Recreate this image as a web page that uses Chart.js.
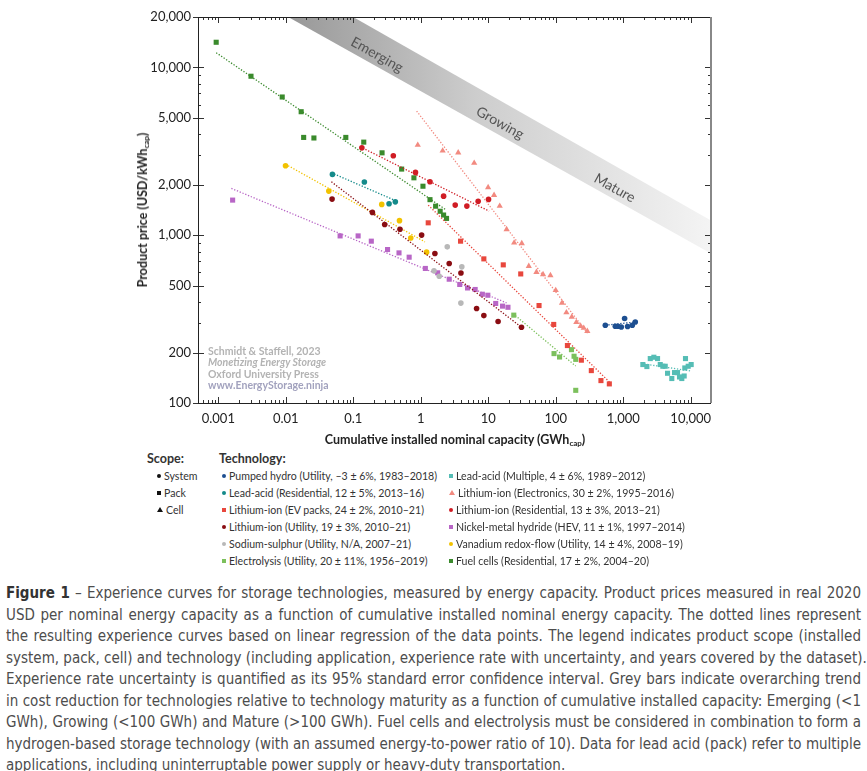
<!DOCTYPE html>
<html>
<head>
<meta charset="utf-8">
<script src="https://cdn.jsdelivr.net/npm/chart.js@4.4.0/dist/chart.umd.min.js"></script>
<style>
  body { margin: 0; background: #fff; width: 867px; height: 771px; position: relative; overflow: hidden; font-family: Lato, "Open Sans", sans-serif; color: #222; }
  #wrap { position: absolute; left: 0; top: 0; width: 867px; height: 440px; }
  .ytitle { position: absolute; left: 143px; top: 210px; transform: translate(-50%, -50%) rotate(-90deg); white-space: nowrap; font-weight: bold; font-size: 12.5px; }
  .xtitle { position: absolute; left: 455px; top: 440px; transform: translate(-50%, -50%); white-space: nowrap; font-weight: bold; font-size: 12.5px; }
  sub { font-size: 8px; vertical-align: -2px; }
  .wm { position: absolute; left: 208px; font-weight: bold; font-size: 10.5px; color: #b3b3b3; line-height: 11.4px; top: 346px; }
  .wm .u { color: #a2a2be; }
  .lg { position: absolute; font-size: 11.5px; color: #333; white-space: nowrap; }
  .lg b { font-size: 12.5px; }
  .lg .t { display: inline-block; transform: scaleX(0.92); transform-origin: 0 50%; }
  .mk { display: inline-block; width: 4px; height: 4px; margin-right: 3px; vertical-align: 2px; }
  .ci { border-radius: 50%; }
  .tri { width: 0; height: 0; border-left: 3px solid transparent; border-right: 3px solid transparent; border-bottom: 5px solid; background: none !important; }
  #cap { position: absolute; left: 6px; top: 583px; width: 855px; font-family: "Liberation Sans Narrow", "DejaVu Sans Condensed", sans-serif; font-size: 15px; color: #4d4d4d; line-height: 21.5px; }
  #cap div { text-align: justify; text-align-last: justify; white-space: nowrap; }
  #cap div.last { text-align-last: left; }
</style>
</head>
<body>
<div id="wrap"><canvas id="c"></canvas></div>
<div class="ytitle">Product price (USD/kWh<sub>cap</sub>)</div>
<div class="xtitle">Cumulative installed nominal capacity (GWh<sub>cap</sub>)</div>
<div class="wm">Schmidt &amp; Staffell, 2023<br><i>Monetizing Energy Storage</i><br>Oxford University Press<br><span class="u">www.EnergyStorage.ninja</span></div>
<div id="legend"></div>
<div id="cap">
  <div><b style="color:#333">Figure 1</b> – Experience curves for storage technologies, measured by energy capacity. Product prices measured in real 2020</div>
  <div>USD per nominal energy capacity as a function of cumulative installed nominal energy capacity. The dotted lines represent</div>
  <div>the resulting experience curves based on linear regression of the data points. The legend indicates product scope (installed</div>
  <div>system, pack, cell) and technology (including application, experience rate with uncertainty, and years covered by the dataset).</div>
  <div>Experience rate uncertainty is quantified as its 95% standard error confidence interval. Grey bars indicate overarching trend</div>
  <div>in cost reduction for technologies relative to technology maturity as a function of cumulative installed capacity: Emerging (&lt;1</div>
  <div>GWh), Growing (&lt;100 GWh) and Mature (&gt;100 GWh). Fuel cells and electrolysis must be considered in combination to form a</div>
  <div>hydrogen-based storage technology (with an assumed energy-to-power ratio of 10). Data for lead acid (pack) refer to multiple</div>
  <div class="last">applications, including uninterruptable power supply or heavy-duty transportation.</div>
</div>
<script>
// axis ticks
const xTicks = [0.001, 0.01, 0.1, 1, 10, 100, 1000, 10000]
const xTickLabels = ['0.001', '0.01', '0.1', '1', '10', '100', '1,000', '10,000']
const yTicks = [100, 200, 500, 1000, 2000, 5000, 10000, 20000]
const yTickLabels = ['100', '200', '500', '1,000', '2,000', '5,000', '10,000', '20,000']

// maturity band (grey bar)
const bandX = [0.001, 20000]
const bandLow = [34200, 778]
const bandHigh = [57300, 1225]
const bandNames = ['Emerging', 'Growing', 'Mature']
const bandNameX = [0.225, 14.9, 746]
const bandNameY = [11900, 4670, 1910]

// series: cumulative capacity (GWh) / price (USD/kWh)
const phX = [543, 764, 835, 937, 1049, 1161, 1363, 1510]
const phY = [291, 287, 287, 284, 319, 286, 291, 304]
const phFitX = [543, 1526], phFitY = [291, 304]

const laResX = [0.0491, 0.146, 0.339, 0.420]
const laResY = [2305, 2075, 1540, 1582]
const laResFitX = [0.0474, 0.44], laResFitY = [2357, 1597]

const evX = [1.29, 3.89, 8.61, 16.7, 30.3, 56.6, 93.4, 149, 240, 337, 468, 623]
const evY = [1186, 922, 723, 666, 588, 381, 294, 220, 180, 156, 136, 130]
const evFitX = [1.29, 630], evFitY = [1512, 133]

const luX = [0.0485, 0.192, 0.292, 0.492, 1.03, 1.62, 2.64, 3.94, 6.72, 8.61, 14.0, 31.1]
const luY = [1642, 1368, 1160, 1085, 1002, 779, 679, 596, 366, 332, 306, 283]
const luFitX = [0.0474, 31.1], luFitY = [2083, 283]

const nasX = [1.57, 1.88, 2.47, 4.06, 3.93]
const nasY = [614, 570, 853, 648, 394]

const elyX = [23.9, 94.4, 114, 171, 187, 198, 198]
const elyY = [334, 197, 188, 208, 190, 182, 119]
const elyFitX = [23.3, 198], elyFitY = [341, 166]

const lamX = [1955, 2243, 2518, 2847, 3228, 3540, 3866, 4195, 4537, 5251, 5757, 6379, 6829, 7386, 8010, 8180, 8375, 9183, 10170]
const lamY = [169.5, 164.9, 184, 187.4, 184, 169.5, 165.6, 165.6, 150.4, 139.9, 151.8, 151.8, 143, 139.9, 144.9, 161.8, 184, 165.6, 169.5]
const lamFitX = [1855, 10160], lamFitY = [172, 155]

const elecX = [0.903, 2.11, 3.59, 6.19, 9.96, 12.2, 14.8, 18.7, 24.2, 31.4, 39.9, 51.8, 64.9, 83.5, 100, 124, 144, 173, 202, 234, 260, 294]
const elecY = [3450, 3190, 3105, 2695, 1930, 1735, 1493, 1084, 902, 894, 654, 602, 584, 576, 470, 395, 346, 326, 303, 287, 280, 268]
const elecFitX = [0.869, 300], elecFitY = [5500, 259]

const lrX = [0.134, 0.392, 0.835, 1.37, 2.18, 3.24, 4.82, 7.09, 10.1]
const lrY = [3320, 2975, 2370, 2085, 1710, 1513, 1492, 1592, 1636]
const lrFitX = [0.126, 10.3], lrFitY = [3370, 1393]

const nmX = [0.00163, 0.0638, 0.118, 0.185, 0.322, 0.476, 0.673, 1.17, 1.78, 2.64, 3.78, 4.94, 6.40, 8.18, 9.86, 12.9, 16.3, 19.6]
const nmY = [1620, 991, 991, 922, 822, 785, 740, 634, 597, 547, 509, 485, 475, 445, 439, 392, 378, 372]
const nmFitX = [0.00156, 18.7], nmFitY = [1902, 395]

const vrX = [0.00991, 0.0434, 0.264, 0.484, 0.711, 1.22]
const vrY = [2595, 1833, 1527, 1222, 963, 793]
const vrFitX = [0.00991, 1.154], vrFitY = [2650, 913]

const fcX = [0.00093, 0.00305, 0.00885, 0.0169, 0.0184, 0.0261, 0.0775, 0.143, 0.267, 0.521, 0.792, 1.078, 1.37, 1.66, 1.94, 2.18, 2.41]
const fcY = [14140, 8870, 6670, 5450, 3830, 3800, 3830, 3590, 3100, 2480, 2200, 1960, 1630, 1490, 1390, 1320, 1260]
const fcFitX = [0.00093, 2.41], fcFitY = [12250, 1410]

// legend entries
const scopeNames = ['System', 'Pack', 'Cell']
const scopeShapes = ['circle', 'rect', 'triangle']
const techCol1 = ['Pumped hydro (Utility, \u20133 \u00b1 6%, 1983\u20132018)', 'Lead-acid (Residential, 12 \u00b1 5%, 2013\u201316)', 'Lithium-ion (EV packs, 24 \u00b1 2%, 2010\u201321)', 'Lithium-ion (Utility, 19 \u00b1 3%, 2010\u201321)', 'Sodium-sulphur (Utility, N/A, 2007\u201321)', 'Electrolysis (Utility, 20 \u00b1 11%, 1956\u20132019)']
const techCol2 = ['Lead-acid (Multiple, 4 \u00b1 6%, 1989\u20132012)', 'Lithium-ion (Electronics, 30 \u00b1 2%, 1995\u20132016)', 'Lithium-ion (Residential, 13 \u00b1 3%, 2013\u201321)', 'Nickel-metal hydride (HEV, 11 \u00b1 1%, 1997\u20132014)', 'Vanadium redox-flow (Utility, 14 \u00b1 4%, 2008\u201319)', 'Fuel cells (Residential, 17 \u00b1 2%, 2004\u201320)']

const C = {
  ph: '#1d4f91', laRes: '#148a8a', ev: '#e8473d', lu: '#8a0d12', nas: '#b8b8b8', ely: '#7cc05c',
  lam: '#55bdb5', elec: '#f28a80', lr: '#d01c24', nm: '#b866c6', vr: '#f2c200', fc: '#3a8a2c'
}
const col1Colors = [C.ph, C.laRes, C.ev, C.lu, C.nas, C.ely]
const col1Shapes = ['circle', 'circle', 'rect', 'circle', 'circle', 'rect']
const col2Colors = [C.lam, C.elec, C.lr, C.nm, C.vr, C.fc]
const col2Shapes = ['rect', 'triangle', 'circle', 'rect', 'circle', 'rect']

function pts(xs, ys) {
  return xs.map((x, i) => ({x: x, y: ys[i]}))
}
function scatter(xs, ys, color, shape) {
  return {
    data: pts(xs, ys), showLine: false, pointStyle: shape,
    pointRadius: shape === 'triangle' ? 3.6 : (shape === 'rect' ? 3.6 : 2.8),
    pointBackgroundColor: color, pointBorderColor: color, pointBorderWidth: 0
  }
}
function fit(xs, ys, color) {
  return {
    data: pts(xs, ys), showLine: true, pointRadius: 0, borderColor: color,
    borderWidth: 1.3, borderDash: [1.3, 1.7], fill: false
  }
}

const datasets = [
  scatter(phX, phY, C.ph, 'circle'), fit(phFitX, phFitY, C.ph),
  scatter(laResX, laResY, C.laRes, 'circle'), fit(laResFitX, laResFitY, C.laRes),
  scatter(evX, evY, C.ev, 'rect'), fit(evFitX, evFitY, C.ev),
  scatter(luX, luY, C.lu, 'circle'), fit(luFitX, luFitY, C.lu),
  scatter(nasX, nasY, C.nas, 'circle'),
  scatter(elyX, elyY, C.ely, 'rect'), fit(elyFitX, elyFitY, C.ely),
  scatter(lamX, lamY, C.lam, 'rect'), fit(lamFitX, lamFitY, C.lam),
  scatter(elecX, elecY, C.elec, 'triangle'), fit(elecFitX, elecFitY, C.elec),
  scatter(lrX, lrY, C.lr, 'circle'), fit(lrFitX, lrFitY, C.lr),
  scatter(nmX, nmY, C.nm, 'rect'), fit(nmFitX, nmFitY, C.nm),
  scatter(vrX, vrY, C.vr, 'circle'), fit(vrFitX, vrFitY, C.vr),
  scatter(fcX, fcY, C.fc, 'rect'), fit(fcFitX, fcFitY, C.fc),
  // grey band, drawn behind everything
  {data: pts(bandX, bandLow), showLine: true, pointRadius: 0, borderWidth: 0, fill: false},
  {data: pts(bandX, bandHigh), showLine: true, pointRadius: 0, borderWidth: 0, fill: '-1',
    backgroundColor: (ctx) => {
      const ca = ctx.chart.chartArea
      if (!ca) return '#ccc'
      const g = ctx.chart.ctx.createLinearGradient(ca.left + 85, 0, ca.right, 0)
      g.addColorStop(0, 'rgb(150,150,150)')
      g.addColorStop(0.45, 'rgb(205,205,205)')
      g.addColorStop(1, 'rgb(244,244,244)')
      return g
    }}
]

function minorValues(min, max) {
  const out = []
  for (let d = Math.floor(Math.log10(min)); d <= Math.ceil(Math.log10(max)); d++) {
    for (let m = 1; m <= 9; m++) {
      const v = m * Math.pow(10, d)
      if (v >= min * 0.999 && v <= max * 1.001) out.push(v)
    }
  }
  return out
}

const framePlugin = {
  id: 'frame',
  afterDatasetsDraw(chart) {
    const {ctx, chartArea: a, scales: {x, y}} = chart
    ctx.save()
    // band labels
    const p0 = [x.getPixelForValue(bandX[0]), y.getPixelForValue(bandLow[0])]
    const p1 = [x.getPixelForValue(bandX[1]), y.getPixelForValue(bandLow[1])]
    const ang = Math.atan2(p1[1] - p0[1], p1[0] - p0[0])
    ctx.fillStyle = '#555'
    ctx.font = '14px Lato'
    ctx.textAlign = 'center'
    ctx.textBaseline = 'middle'
    bandNames.forEach((n, i) => {
      ctx.save()
      ctx.translate(x.getPixelForValue(bandNameX[i]), y.getPixelForValue(bandNameY[i]))
      ctx.rotate(ang)
      ctx.fillText(n, 0, 0)
      ctx.restore()
    })
    // ticks
    ctx.strokeStyle = '#333'
    ctx.lineWidth = 1
    ctx.beginPath()
    minorValues(x.min, x.max).forEach(v => {
      const px = Math.round(x.getPixelForValue(v)) + 0.5
      const major = xTicks.includes(v)
      const len = major ? 6 : 3
      ctx.moveTo(px, a.bottom); ctx.lineTo(px, a.bottom - len)
      ctx.moveTo(px, a.top); ctx.lineTo(px, a.top + len)
    })
    minorValues(y.min, y.max).forEach(v => {
      const py = Math.round(y.getPixelForValue(v)) + 0.5
      const major = yTicks.includes(v)
      const len = major ? 6 : 3
      ctx.moveTo(a.left, py); ctx.lineTo(a.left + len, py)
      if (major) { ctx.moveTo(a.left - 5, py); ctx.lineTo(a.left, py) }
      ctx.moveTo(a.right, py); ctx.lineTo(a.right - len, py)
    })
    ctx.stroke()
    ctx.strokeStyle = '#222'
    ctx.strokeRect(a.left + 0.5, a.top + 0.5, a.right - a.left - 1, a.bottom - a.top)
    ctx.strokeStyle = '#888'
    ctx.lineWidth = 2
    ctx.beginPath()
    ctx.moveTo(a.right, a.top); ctx.lineTo(a.right, a.bottom)
    ctx.stroke()
    ctx.restore()
  }
}

new Chart(document.getElementById('c'), {
  type: 'line',
  data: {datasets: datasets},
  plugins: [framePlugin],
  options: {
    responsive: true,
    maintainAspectRatio: false,
    animation: false,
    layout: {padding: {left: 0, right: 156, top: 17, bottom: 0}},
    plugins: {
      legend: {display: false},
      tooltip: {enabled: false},
      filler: {drawTime: 'beforeDatasetsDraw'}
    },
    scales: {
      x: {
        type: 'logarithmic', min: 0.0005, max: 20000,
        grid: {display: false, drawTicks: false},
        border: {display: false},
        afterBuildTicks: (s) => { s.ticks = xTicks.map(v => ({value: v})) },
        afterFit: (s) => { s.height = 37 },
        ticks: {
          autoSkip: false, maxRotation: 0, padding: 8, color: '#222',
          font: {family: 'Lato', size: 13},
          callback: (v, i) => xTickLabels[i]
        }
      },
      y: {
        type: 'logarithmic', min: 100, max: 20000,
        grid: {display: false, drawTicks: false},
        border: {display: false},
        afterBuildTicks: (s) => { s.ticks = yTicks.map(v => ({value: v})) },
        afterFit: (s) => { s.width = 198 },
        ticks: {
          autoSkip: false, padding: 7, color: '#222',
          font: {family: 'Lato', size: 13},
          callback: (v, i) => yTickLabels[i]
        }
      }
    }
  }
})

// legend (HTML)
function marker(shape, color) {
  if (shape === 'triangle') return '<span class="mk tri" style="border-bottom-color:' + color + '"></span>'
  return '<span class="mk' + (shape === 'circle' ? ' ci' : '') + '" style="background:' + color + '"></span>'
}
function entry(left, top, shape, color, text) {
  return '<div class="lg" style="left:' + left + 'px;top:' + top + 'px">' + marker(shape, color) + '<span class="t">' + text + '</span></div>'
}
const rowTop = 469, rowStep = 17
let html = '<div class="lg" style="left:147px;top:451px"><b>Scope:</b></div>'
html += '<div class="lg" style="left:219px;top:451px"><b>Technology:</b></div>'
scopeNames.forEach((n, i) => { html += entry(157, rowTop + i * rowStep, scopeShapes[i], '#111', n) })
techCol1.forEach((n, i) => { html += entry(222, rowTop + i * rowStep, col1Shapes[i], col1Colors[i], n) })
techCol2.forEach((n, i) => { html += entry(449, rowTop + i * rowStep, col2Shapes[i], col2Colors[i], n) })
document.getElementById('legend').innerHTML = html
</script>
</body>
</html>
